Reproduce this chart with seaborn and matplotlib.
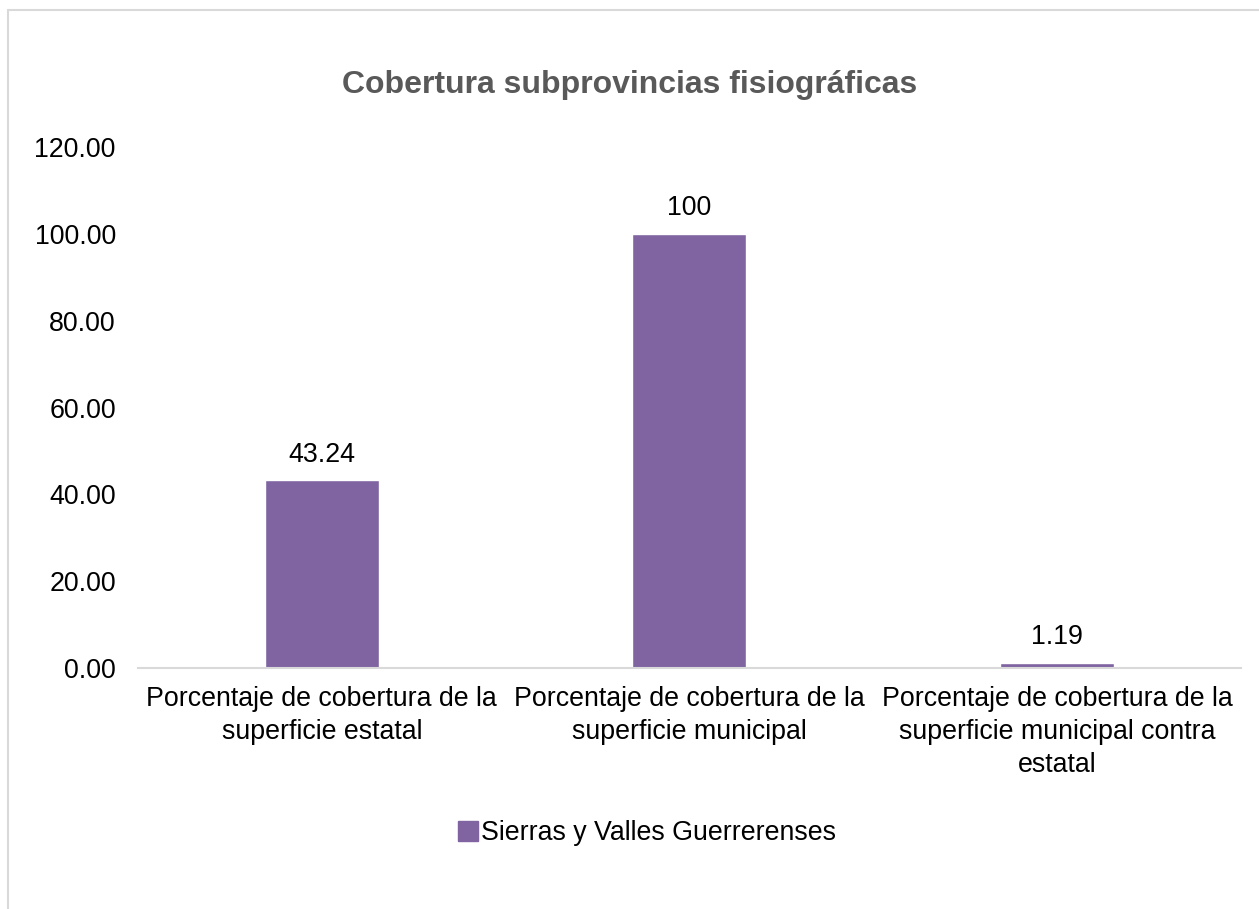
import matplotlib
matplotlib.use("Agg")
import matplotlib.pyplot as plt
import seaborn as sns
import pandas as pd
from matplotlib.lines import Line2D

categorias = [
    "Porcentaje de cobertura de la\nsuperficie estatal",
    "Porcentaje de cobertura de la\nsuperficie municipal",
    "Porcentaje de cobertura de la\nsuperficie municipal contra\nestatal",
]
valores = [43.24, 100, 1.19]
serie = "Sierras y Valles Guerrerenses"
yticks = [0, 20, 40, 60, 80, 100, 120]

color_barra = "#8064A2"
gris_eje = "#D9D9D9"
tam = 19.3

sns.set_style("white")
plt.rcParams['font.family'] = ['Liberation Sans', 'DejaVu Sans']
plt.rcParams['text.color'] = 'black'

df = pd.DataFrame({"categoria": categorias, "valor": valores, "serie": serie})

fig = plt.figure(figsize=(12.59, 9.09), dpi=100)
ax = fig.add_axes([0.1096, 0.2651, 0.876, 0.5732])

sns.barplot(data=df, x="categoria", y="valor", hue="serie",
            palette=[color_barra], saturation=1, width=0.31, ax=ax, legend=False)

ax.set_ylim(0, 120)
ax.set_xlim(-0.5, 2.5)
ax.set_yticks(yticks)
ax.set_yticklabels([f"{v:.2f}" for v in yticks])
ax.set_xlabel("")
ax.set_ylabel("")
ax.tick_params(axis="y", length=0, pad=16, labelsize=tam, labelcolor="black")
ax.tick_params(axis="x", length=0, pad=13, labelsize=tam, labelcolor="black")
for lab in ax.get_xticklabels():
    lab.set_linespacing(1.35)

for side in ["top", "right", "left"]:
    ax.spines[side].set_visible(False)
ax.spines["bottom"].set_color(gris_eje)
ax.spines["bottom"].set_linewidth(1.5)

ax.bar_label(ax.containers[0], labels=[f"{v:g}" for v in valores],
             padding=9, fontsize=tam, color="black")

fig.text(0.5, 1 - 85 / 909, "Cobertura subprovincias fisiográficas",
         ha="center", va="center", fontsize=23, fontweight="bold", color="#595959")

handle = Line2D([], [], marker="s", linestyle="", color=color_barra, markersize=14)
fig.legend([handle], [serie], loc="center", bbox_to_anchor=(0.5125, 1 - 833 / 909),
           frameon=False, fontsize=tam, handletextpad=0.0, handlelength=1.0,
           labelcolor="black")

# borde del área del gráfico
fig.add_artist(Line2D([8 / 1259, 8 / 1259], [0, 1 - 10 / 909],
                      transform=fig.transFigure, color=gris_eje, lw=1.5))
fig.add_artist(Line2D([8 / 1259, 1], [1 - 10 / 909, 1 - 10 / 909],
                      transform=fig.transFigure, color=gris_eje, lw=1.5))

fig.savefig("out.png", dpi=100)
